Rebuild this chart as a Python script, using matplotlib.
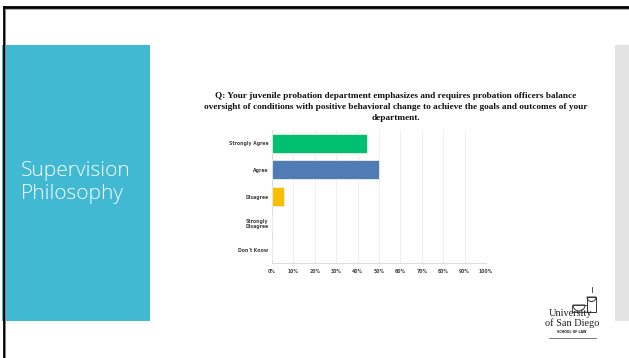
import matplotlib.pyplot as plt
from matplotlib.patches import Rectangle, Polygon, Wedge

# survey answers (share of respondents, %)
categories = ["Strongly Agree", "Agree", "Disagree", "Strongly\nDisagree", "Don't Know"]
values = [44.44, 50.0, 5.56, 0.0, 0.0]
bar_colors = ["#00bf6f", "#507cb6", "#f9be00", "#6c5ba7", "#ff8b4f"]
x_ticks = [0, 10, 20, 30, 40, 50, 60, 70, 80, 90, 100]
x_ticklabels = [f"{t}%" for t in x_ticks]

title = ("Q: Your juvenile probation department emphasizes and requires probation officers balance\n"
         "oversight of conditions with positive behavioral change to achieve the goals and outcomes of your\n"
         "department.")
slide_title = "Supervision\nPhilosophy"

W, H = 629, 358
fig = plt.figure(figsize=(W / 100, H / 100), dpi=100)
fig.patch.set_facecolor("white")

# slide decoration layer in pixel coords
bg = fig.add_axes([0, 0, 1, 1])
bg.set_xlim(0, W)
bg.set_ylim(H, 0)
bg.axis("off")
bg.add_patch(Rectangle((2, 45), 148, 276, color="#41b9d3", lw=0))
bg.add_patch(Rectangle((615, 45), 14, 276, color="#e3e3e3", lw=0))
bg.plot([3.5, 629], [7, 7], color="black", lw=2)
bg.plot([3.5, 3.5], [7, 358], color="black", lw=2)
bg.plot([5, 629], [8.5, 8.5], color="#9a9a9a", lw=0.6)
bg.plot([5.2, 5.2], [8.5, 358], color="#9a9a9a", lw=0.6)
bg.text(21, 182.5, slide_title, color="white", fontsize=15, family="Open Sans",
        fontweight="light", va="center", ha="left", linespacing=1.22)

# logo, rough
bg.add_patch(Rectangle((587, 297), 9, 15, fill=False, ec="#333", lw=0.7))
bg.add_patch(Wedge((591.5, 297), 4.5, 0, 180, fill=False, ec="#333", lw=0.7))
bg.plot([591.5, 591.5], [292, 287], color="#333", lw=0.6)
bg.add_patch(Wedge((579, 305), 6, 0, 180, fill=False, ec="#333", lw=0.7))
bg.add_patch(Rectangle((572, 305), 15, 7, fill=False, ec="#333", lw=0.6))
bg.text(570.5, 314, "University", fontsize=7.4, family="Liberation Serif", color="#222",
        ha="center", va="center")
bg.text(572, 323, "of San Diego", fontsize=7.4, family="Liberation Serif", color="#222",
        ha="center", va="center")
bg.text(572, 332, "SCHOOL OF LAW", fontsize=2.3, color="#222", ha="center", va="center",
        fontweight="bold")
bg.plot([549, 596], [338, 338], color="#444", lw=0.5)

bg.text(396, 107, title, ha="center", va="center", fontsize=6.7, family="Liberation Serif",
        fontweight="bold", color="#111", linespacing=1.45)

# chart
ax = fig.add_axes([272 / W, 1 - 263 / H, 214 / W, 133 / H])
ypos = range(len(categories))
ax.barh(list(ypos), values, height=0.72, color=bar_colors, edgecolor="#e8f0e8", linewidth=0.6, zorder=3)
ax.set_xlim(0, 100)
ax.set_ylim(len(categories) - 0.5, -0.5)
ax.set_xticks(x_ticks)
ax.set_xticklabels(x_ticklabels)
ax.set_yticks(list(ypos))
ax.set_yticklabels(categories)
ax.grid(axis="x", color="#ececec", lw=0.6, zorder=0)
for s in ["top", "right"]:
    ax.spines[s].set_visible(False)
for s in ["left", "bottom"]:
    ax.spines[s].set_color("#dcdcdc")
    ax.spines[s].set_linewidth(0.7)
ax.tick_params(length=0, labelsize=3.3, labelcolor="#444")
ax.tick_params(axis="y", pad=2.5)
ax.tick_params(axis="x", pad=4)
for lbl in ax.get_xticklabels() + ax.get_yticklabels():
    lbl.set_fontweight("bold")

fig.savefig("out.png", dpi=100)
